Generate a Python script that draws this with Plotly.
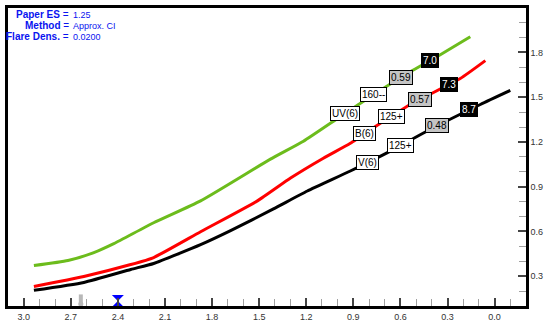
import numpy as np
import plotly.graph_objects as go

# Curve samples (x: colour index, y: value)
uv_x = [2.935, 2.718, 2.553, 2.426, 2.172, 1.873, 1.428, 1.218, 0.982, 0.760, 0.568, 0.346, 0.155]
uv_y = [0.371, 0.405, 0.458, 0.518, 0.658, 0.805, 1.085, 1.205, 1.371, 1.525, 1.651, 1.785, 1.905]

b_x = [2.935, 2.617, 2.318, 2.172, 1.873, 1.511, 1.300, 1.091, 0.919, 0.728, 0.537, 0.219, 0.059]
b_y = [0.231, 0.298, 0.378, 0.425, 0.598, 0.805, 0.958, 1.091, 1.191, 1.325, 1.451, 1.625, 1.745]

v_x = [2.935, 2.617, 2.318, 2.172, 1.873, 1.682, 1.409, 1.193, 0.919, 0.664, 0.409, 0.091, -0.100]
v_y = [0.205, 0.258, 0.345, 0.385, 0.511, 0.605, 0.751, 0.871, 1.005, 1.138, 1.285, 1.451, 1.545]

# Per-curve tags: name, count, ratio, value, and where along x each sits
uv_tags = ["UV(6)", "160--", "0.59", "7.0"]
uv_tag_x = [0.956, 0.772, 0.594, 0.409]
b_tags = ["B(6)", "125+", "0.57", "7.3"]
b_tag_x = [0.829, 0.657, 0.473, 0.288]
v_tags = ["V(6)", "125+", "0.48", "8.7"]
v_tag_x = [0.810, 0.600, 0.364, 0.161]

header_keys = ["Paper ES", "Method", "Flare Dens."]
header_vals = ["1.25", "Approx. CI", "0.0200"]

# Position indicators on the x axis
gray_pos = 2.636
blue_pos = 2.40

W, H = 551, 336
ML, MR, MT, MB = 6, 25, 5, 30
PW, PH = W - ML - MR, H - MT - MB

GREEN = "#6cbc1c"
RED = "#ff0000"
BLACK = "#000000"
FONT = "Liberation Sans, Arial, sans-serif"

fig = go.Figure()

series = [
    (uv_x, uv_y, GREEN, uv_tags, uv_tag_x),
    (b_x, b_y, RED, b_tags, b_tag_x),
    (v_x, v_y, BLACK, v_tags, v_tag_x),
]

for xs, ys, col, tags, tag_x in series:
    fig.add_trace(go.Scatter(x=xs, y=ys, mode="lines",
                             line=dict(color=col, width=3, shape="spline",
                                       smoothing=0.5),
                             hoverinfo="skip", showlegend=False))

annotations = []
tag_styles = [
    dict(bgcolor="white", font_color="black"),
    dict(bgcolor="white", font_color="black"),
    dict(bgcolor="#c4c4c4", font_color="black"),
    dict(bgcolor="black", font_color="white"),
]
for xs, ys, col, tags, tag_x in series:
    xp = np.array(xs)[::-1]
    fp = np.array(ys)[::-1]
    for txt, tx, st in zip(tags, tag_x, tag_styles):
        ty = float(np.interp(tx, xp, fp))
        annotations.append(dict(
            x=tx, y=ty, xref="x", yref="y", text=txt, showarrow=False,
            font=dict(family=FONT, size=10, color=st["font_color"]),
            bgcolor=st["bgcolor"], bordercolor="black", borderwidth=1,
            borderpad=1, xanchor="center", yanchor="middle"))


def px_x(p):
    return (p - ML) / PW


def px_y(p):
    return 1 - (p - MT) / PH


BLUE = "#0a14f0"
for i, (k, v) in enumerate(zip(header_keys, header_vals)):
    yy = px_y(12 + 11 * i)
    annotations.append(dict(
        x=px_x(69), y=yy, xref="paper", yref="paper",
        text=f"<b>{k}</b> =", showarrow=False, xanchor="right", yanchor="middle",
        font=dict(family=FONT, size=10, color=BLUE)))
    annotations.append(dict(
        x=px_x(69), y=yy, xref="paper", yref="paper",
        text=v, showarrow=False, xanchor="left", yanchor="middle",
        font=dict(family=FONT, size=9, color=BLUE)))

# Axis position indicators
fig.add_trace(go.Scatter(x=[gray_pos], y=[0.14], mode="markers",
                         marker=dict(symbol="line-ns", size=8,
                                     line=dict(color="#b8b8b8", width=4)),
                         cliponaxis=False, hoverinfo="skip", showlegend=False))
fig.add_trace(go.Scatter(x=[gray_pos], y=[0.113], mode="markers",
                         marker=dict(symbol="circle", size=5, color="#b8b8b8"),
                         cliponaxis=False, hoverinfo="skip", showlegend=False))
fig.add_trace(go.Scatter(x=[blue_pos], y=[0.133], mode="markers",
                         marker=dict(symbol="hourglass", size=12, color="#0000ff",
                                     line=dict(width=0)),
                         cliponaxis=False, hoverinfo="skip", showlegend=False))

axis_common = dict(
    showgrid=False, zeroline=False,
    showline=True, linecolor="black", linewidth=2.5, mirror=True,
    ticks="inside", ticklen=8, tickwidth=2, tickcolor="#444444",
    tickmode="linear", tick0=0, dtick=0.3,
    tickformat=".1f",
    tickfont=dict(family=FONT, size=9, color="#333333"),
    minor=dict(dtick=0.1, tick0=0, ticks="inside", ticklen=7,
               tickwidth=1, tickcolor="#a0a0a0", showgrid=False),
)

fig.update_xaxes(range=[3.1, -0.2], **axis_common)
fig.update_yaxes(range=[0.1, 2.098], side="right", **axis_common)

fig.update_layout(
    width=W, height=H,
    margin=dict(l=ML, r=MR, t=MT, b=MB),
    paper_bgcolor="white", plot_bgcolor="white",
    annotations=annotations,
    showlegend=False,
)

fig.write_html("out.html")
